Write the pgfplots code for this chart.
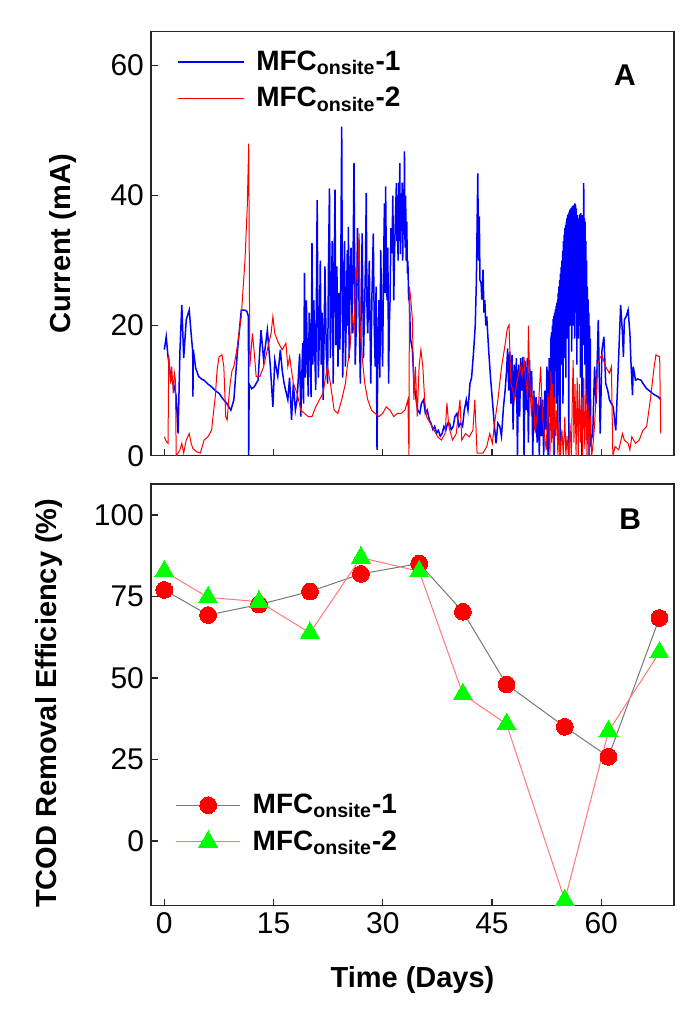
\documentclass[border=0pt]{standalone}
\usepackage{pgfplots}
\pgfplotsset{compat=1.18}
\usepackage{fontspec}
\setmainfont{Liberation Sans}
\definecolor{mblue}{RGB}{0,0,255}
\definecolor{mred}{RGB}{255,0,0}
\definecolor{mgreen}{RGB}{0,255,0}
\definecolor{mpink}{RGB}{255,120,120}
\definecolor{mgray}{RGB}{120,120,120}
\begin{document}
\begin{tikzpicture}
\path[use as bounding box] (0pt,0pt) rectangle (341pt,507.5pt);
\pgfplotsset{
  every axis/.append style={
    scale only axis, width=261.5pt,
    axis line style={line width=0.7pt, black!85},
    tick style={line width=0.7pt, black!85},
    tick align=inside, major tick length=3.5pt,
    xtick pos=bottom, ytick pos=left,
    xmin=-1.83, xmax=70,
    xtick={0,15,30,45,60},
    tick label style={font=\fontsize{15}{18}\selectfont},
    /pgf/number format/assume math mode=true,
    label style={font=\bfseries\fontsize{14.5}{17}\selectfont},
    legend cell align=left,
  }
}
% ---------------- Panel A ----------------
\begin{axis}[at={(75.5pt,279.65pt)}, anchor=south west, height=212pt,
  ymin=0, ymax=65.2, ytick={0,20,40,60}, xticklabels={},
  ylabel={Current (mA)},
  ylabel style={at={(axis description cs:-0.168,0.5)}, anchor=center},
  legend style={draw=none, fill=none, at={(axis description cs:0.037,0.975)}, anchor=north west,
    font=\bfseries\fontsize{14}{16}\selectfont, row sep=3pt},
  legend image code/.code={\draw[#1] (0pt,0pt) -- (33pt,0pt); \path (37pt,0pt);},
]
\addplot[mblue, line width=0.75pt] coordinates {
(0,16.3)(0.26,18.3)(0.51,15.2)(0.87,12.2)(1.12,11.4)(1.38,10.6)(1.63,9.1)(1.89,3.4)(2.15,16.3)(2.4,23.2)(2.66,15)(3.01,20.9)(3.42,22.4)(3.68,18.8)(3.9,16)(3.93,9.1)(3.98,16.3)(4.3,13.5)(4.7,12.2)(5.1,11.8)(5.46,11.6)(6,11)(6.49,10.6)(7,10)(7.51,9.6)(8,8.8)(8.53,8.1)(9.14,7)(9.55,8.6)(10.06,16.3)(10.57,22.4)(11.0,22.4)(11.34,22.2)(11.55,21.4)(11.59,0.1)(11.65,11)(12.0,10.3)(12.36,10.6)(12.87,11.6)(13.28,19.3)(13.64,14.7)(14.15,19.3)(14.56,13.7)(14.91,7.5)(15.17,14.7)(15.58,12.2)(15.93,16.3)(16.2,13)(16.45,11.1)(16.96,8.6)(17.2,12)(17.47,5.5)(17.72,11.1)(18.0,7)(18.23,8.6)(18.59,15.7)(18.74,6)
(19,17.3)(19.12,8)(19.25,28.1)(19.38,12)(19.51,23.9)(19.64,15)(19.77,9.1)(19.9,22)(20.02,18.8)(20.15,9)(20.28,32.7)(20.4,14)(20.53,23.9)(20.66,16)(20.79,10.1)(20.9,26)(20.99,39.3)(21.15,12)(21.3,18.8)(21.42,30)(21.55,14)(21.68,22)(21.81,8.6)(21.94,18)(22.06,29.1)(22.24,16)(22.42,11.1)(22.55,30)(22.68,41.1)(22.8,15)(22.93,23.9)(23.06,33)(23.19,11.1)(23.32,28)(23.44,40.9)(23.57,17)(23.7,29.1)(23.78,20)(23.85,13.7)(23.98,25)(24.11,16.3)(24.24,30)(24.36,50.6)(24.5,12)(24.62,23.9)(24.75,33)(24.87,13.7)(25.0,22)(25.13,31.6)(25.2,20)(25.28,35.2)(25.38,15)(25.49,26.5)(25.64,32)(25.79,18.8)(25.92,30)(26.05,45)(26.22,14)(26.4,21.4)(26.53,35)(26.66,29.1)(26.79,20)(26.92,11.1)(27.05,25)(27.17,34.2)(27.35,15)(27.53,23.9)(27.63,30)(27.73,40.4)(27.84,22)(27.94,18.8)(28.15,30)(28.35,11.1)(28.52,25)(28.7,34.2)(28.83,20)(28.96,13.7)(29.08,26)(29.21,0.9)(29.34,18)(29.47,23.9)(29.6,12)(29.72,31.6)(29.85,22)(29.98,13.7)(30.1,28)(30.23,38.8)(30.31,25)(30.39,41.4)(30.49,30)(30.59,23.9)(30.7,32)(30.8,11.1)(30.9,20)(31,23.9)(31.13,35)(31.26,31.1)(31.38,40)(31.51,23.9)(31.6,30)
(31.7,35)(31.87,41.9)(31.95,33)(32.02,40)(32.1,30)(32.18,42)(32.26,33)(32.34,45)(32.42,31)(32.5,40)(32.58,35)(32.66,42)(32.74,30)(32.82,41)(32.9,34)(32.98,46.8)(33.06,32)(33.14,40)(33.22,30)(33.3,36)(33.38,28)(33.45,30)(33.55,24)(33.66,23.9)(33.8,18)(34.07,16.3)(34.3,11)(34.58,8.6)(34.8,7)(35.09,6.5)(35.3,8)(35.6,8.6)(35.85,6.5)(36.11,7)(36.4,5.5)(36.62,5)(36.9,4)(37.13,4.5)(37.4,3.5)(37.64,3.9)(37.9,3)(38.15,3.4)(38.4,4.5)(38.66,3.9)(38.9,5)(39.17,5)(39.4,4)(39.68,4.5)(39.9,6)(40.19,6.5)(40.45,4.5)(40.7,5)(40.96,4.5)(41.2,7)(41.47,8.6)(41.7,7)(41.98,11.1)(42.2,12)(42.49,16.3)(42.7,20)(42.85,26.5)(43.05,43.4)(43.15,30)(43.26,36.8)(43.35,27)(43.51,26.5)(43.6,24)(43.77,28.6)(43.9,22)(44.02,23.9)(44.15,20)(44.28,21.4)(44.54,16.3)(44.8,12)(45.05,8.6)(45.3,5)(45.56,1.9)(45.8,5)(46.07,4.5)(46.3,3)(46.58,7.5)(46.8,10)
(47.0,13)(47.15,16.5)(47.3,10)(47.45,16)(47.6,8)(47.75,15.5)(47.9,4)(48.05,14)(48.2,9)(48.35,15)(48.5,0)(48.65,14)(48.8,6)(48.95,15)(49.1,10)(49.25,15.2)(49.4,0)(49.55,14.5)(49.7,7)(49.85,15)(50.0,2)(50.15,14.7)(50.3,9)(50.45,13)(50.6,0)(50.75,10)(50.9,4)(51.05,9)(51.2,2)(51.35,8)(51.5,0)(51.65,9)(51.8,3)(51.95,8.6)(52.1,0)(52.25,10)(52.4,4)(52.55,13.7)(52.7,0)(52.85,15)(53.0,6)(53.1,18)
(53.20,19)(53.25,10)(53.30,20)(53.35,6)(53.40,21)(53.45,12)(53.50,21.5)(53.55,0)(53.60,22)(53.65,13)(53.70,22.5)(53.75,14)(53.80,23)(53.85,8)(53.90,23.5)(53.95,15)(54.00,24)(54.05,2)(54.10,25)(54.15,16)(54.20,26)(54.25,12)(54.30,27)(54.35,0)(54.40,28)(54.45,18)(54.50,29)(54.55,14)(54.60,30)(54.65,20)(54.70,31.5)(54.75,8)(54.80,33)(54.85,21)(54.90,34)(54.95,15)(55.00,35)(55.05,22)(55.10,35.5)(55.15,12)(55.20,36)(55.25,24)(55.30,36.5)(55.35,18)(55.40,37)(55.45,25)(55.50,37.2)(55.55,0)(55.60,37.5)(55.65,24)(55.70,37.8)(55.75,20)(55.80,38)(55.85,26)(55.90,38.1)(55.95,16)(56.00,38.3)(56.05,25)(56.10,38.4)(56.15,20)(56.20,38.5)(56.25,27)(56.30,38.6)(56.35,18)(56.40,38.8)(56.45,26)(56.50,38.5)(56.55,22)(56.60,38)(56.65,14)(56.70,37)(56.75,24)(56.80,36)(56.85,18)(56.90,36.5)(56.95,25)(57.00,37)(57.05,20)(57.10,37.2)(57.15,12)(57.20,37.3)(57.25,24)(57.30,37)(57.35,0)(57.40,37)(57.45,22)(57.50,37)(57.55,17)(57.60,41.9)(57.65,22)(57.70,36.5)(57.75,14)(57.80,36)(57.85,18)(57.90,33)(57.95,8)(58.00,30)(58.05,14)(58.10,26)(58.15,3)(58.20,24)(58.25,10)(58.30,22)(58.35,0)(58.40,20)(58.45,6)(58.50,18)(58.55,2)
(58.84,3.4)(59.09,13.7)(59.3,8)(59.6,20.9)(59.86,3.4)(60.11,16.3)(60.37,18.3)(60.62,11.1)(60.9,10)(61.13,8.6)(61.4,8)(61.65,7.5)(62,3.9)(62.26,11.1)(62.67,23.2)(62.92,18.8)(63.05,15.2)(63.18,20.9)(63.43,21.4)(63.69,22.4)(63.94,18.8)(64.1,14)(64.3,9.3)(64.4,13.7)(64.71,11.6)(65,11.8)(65.48,11.6)(65.8,11)(66.24,10.3)(66.6,10)(67.01,9.6)(67.4,9.3)(67.78,9.1)(68.18,8.6)
};
\addlegendentry{MFC\textsubscript{onsite}-1}
\addplot[mred, line width=0.5pt] coordinates {
(0,2.9)(0.26,2.2)(0.51,1.9)(0.61,15.5)(0.87,11.1)(1.02,13.7)(1.22,9.6)(1.38,12.7)(1.53,11.6)(1.63,0)(1.89,0.4)(2.15,0.9)(2.4,1.9)(2.66,0.4)(3.01,2.4)(3.42,3.4)(3.68,1.9)(3.93,1.1)(4.44,0.6)(4.95,0.4)(5.46,2.4)(5.97,2.9)(6.49,3.9)(6.74,6.5)(7,9.1)(7.25,13.2)(7.51,15.2)(7.92,15.5)(8.17,13.7)(8.43,6)(8.63,5.5)(8.84,8.6)(9.04,11.1)(9.3,13.1)(9.55,13.7)(9.96,16.3)(10.31,19.3)(10.57,21.4)(10.83,25.9)(11.08,30.1)(11.39,38.3)(11.59,48)(11.74,13.7)(12.1,18.8)(12.36,15.7)(12.61,12.2)(13.13,12.2)(13.64,13.7)(14.15,16.3)(14.66,18.8)(14.91,21.4)(15.17,18.8)(15.68,17.3)(16.19,16.3)(16.7,17.3)(16.96,13.7)(17.21,15.2)(17.72,11.1)(18.23,9.6)(18.74,7)(19.25,6.5)(19.77,6)(20.28,6)(20.79,7.5)(21.3,8.6)(21.81,9.6)(22.06,11.6)(22.42,13.7)(22.81,11.1)(23.32,7)(23.83,6.5)(24.36,8.6)(24.87,11.1)(25.13,13.7)(25.49,16.3)(25.79,21.9)(26.05,18.8)(26.3,29.1)(26.51,26.5)(26.76,34.2)(26.92,18.8)(27.17,15.2)(27.53,11.1)(27.94,8.6)(28.45,7)(28.96,6.5)(29.47,6)(29.98,6.5)(30.49,7.5)(31,7)(31.51,6)(32.02,6.5)(32.53,6.5)(33.04,7)(33.45,8.6)(33.6,0)(33.66,26)(33.86,23.9)(34.07,20.9)(34.27,8.6)(34.48,13.7)(34.73,6)(34.99,13.7)(35.24,16.3)(35.5,13.7)(35.75,8.6)(36.01,6)(36.52,5)(37.03,4)(37.54,2.9)(38.05,2.4)(38.56,3.4)(38.81,8.1)(39.07,4.5)(39.58,2.4)(40.09,3.4)(40.6,8.6)(40.85,2.4)(41.36,3.4)(41.87,2.9)(42.38,3.9)(42.64,8.6)(42.95,0.4)(43.77,0.4)(44.28,1.4)(44.69,3.4)(45.05,1.9)(45.3,4.5)(45.81,8.6)(46.32,13.7)(46.83,17.3)(47.1,19.5)(47.34,20.1)(47.6,11.1)(47.85,10.1)(48.11,8.6)(48.37,11.1)(48.88,13.7)(49.13,12.2)(49.39,15.2)(49.9,8.6)(50.0,20)(50.15,12.6)(50.41,6)(50.66,9.6)(50.92,3.4)(51.43,8.6)(51.68,13.7)(51.94,6)(52.19,3.4)(52.45,0.9)(52.71,9.6)(52.96,0)
(53.1,13)(53.2,2)(53.3,11)(53.45,0)(53.6,9)(53.75,3)(53.9,7)(54.05,0)(54.2,5)(54.4,0)(54.6,4)(54.8,0)(55.0,6)(55.15,0)(55.3,3)(55.5,0)(55.7,5)(55.9,0)(56.05,10)(56.15,14.7)(56.25,2)(56.4,11)(56.55,0)(56.7,12)(56.85,0)(57.0,11)(57.15,2)(57.3,9)(57.45,0)(57.6,12)(57.75,1)(57.9,10)(58.05,0)(58.2,8)(58.35,0)(58.5,6)(58.7,0)(58.9,2)(59.1,5)(59.3,9)(59.5,14)
(59.8,15)(60.1,15.5)(60.6,13.7)(61.13,12.7)(61.4,13.7)(61.6,0)(61.9,1.4)(62.41,0.9)(62.92,3.4)(63.18,2.4)(63.69,1.9)(63.94,0.9)(64.2,2.9)(64.71,1.9)(65.22,2.4)(65.73,3.9)(66.24,4.5)(66.75,8.6)(67.27,13.7)(67.52,15.5)(68.03,15.2)(68.18,3.4)
};
\addlegendentry{MFC\textsubscript{onsite}-2}
\node[font=\bfseries\fontsize{15}{18}\selectfont] at (axis description cs:0.906,0.898) {A};
\end{axis}
% ---------------- Panel B ----------------
\begin{axis}[at={(75.5pt,54.65pt)}, anchor=south west, height=210.85pt,
  ymin=-19.9, ymax=109.5, ytick={0,25,50,75,100}, clip=false,
  xlabel={Time (Days)},
  xlabel style={at={(axis description cs:0.5,-0.1755)}, anchor=center},
  ylabel={TCOD Removal Efficiency (\%)},
  ylabel style={at={(axis description cs:-0.195,0.48)}, anchor=center},
  legend style={draw=none, fill=none, at={(axis description cs:0.035,0.285)}, anchor=north west,
    font=\bfseries\fontsize{14}{16}\selectfont, row sep=3pt},
  legend image code/.code={\draw[mark repeat=2, mark phase=2, #1] plot coordinates {(0pt,0pt) (16pt,0pt) (32pt,0pt)}; \path (36pt,0pt);},
]
\addplot[mgray, line width=0.5pt, mark=*, mark size=4.2pt, mark options={solid, draw=mred, fill=mred, line width=0pt}] coordinates {
(0,77)(6,69.3)(13,72.5)(20,76.5)(27,81.9)(35,85.1)(41,70.3)(47,48)(55,35)(61,25.8)(68,68.4)
};
\addlegendentry{MFC\textsubscript{onsite}-1}
\addplot[mpink, line width=0.5pt, mark=triangle*, mark size=5.5pt, mark options={solid, draw=mgreen, fill=mgreen, line width=0pt}] coordinates {
(0,82.7)(6,74.7)(13,73.4)(20,63.8)(27,86.9)(35,82.7)(41,45)(47,35.8)(55,-18.2)(61,33.6)(68,57.8)
};
\addlegendentry{MFC\textsubscript{onsite}-2}
\node[font=\bfseries\fontsize{15}{18}\selectfont] at (axis description cs:0.916,0.916) {B};
\end{axis}
\end{tikzpicture}
\end{document}
